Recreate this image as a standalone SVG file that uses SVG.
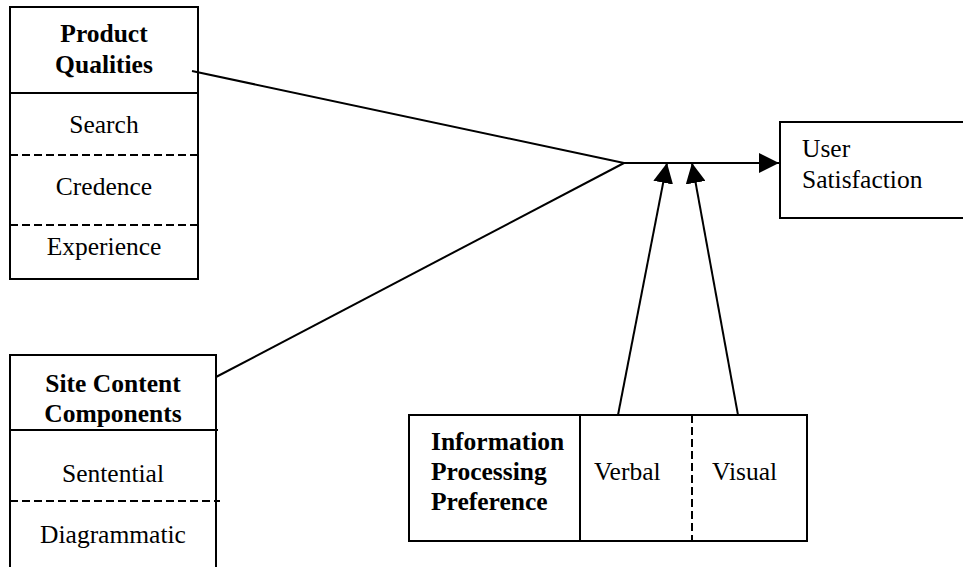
<svg xmlns="http://www.w3.org/2000/svg" width="963" height="567" viewBox="0 0 963 567">
<style>
.box{fill:#fff;stroke:#000;stroke-width:2}
.ln{stroke:#000;stroke-width:2;fill:none}
.dash{stroke:#000;stroke-width:2;stroke-dasharray:8 4;fill:none}
text{font-family:'Liberation Serif',Tinos,'DejaVu Serif',Times,serif;font-size:25.5px;fill:#000}
.b{font-weight:bold}
.c{text-anchor:middle}
</style>
<defs>
<marker id="ah" viewBox="0 0 20 20" refX="20" refY="10" markerWidth="20" markerHeight="20" markerUnits="userSpaceOnUse" orient="auto">
<path d="M0,0 L20,10 L0,20 Z" fill="#000"/>
</marker>
</defs>
<rect width="963" height="567" fill="#fff"/>
<g id="product-qualities">
<rect class="box" x="10" y="7" width="188" height="272"/>
<line class="ln" x1="10" y1="93" x2="198" y2="93"/>
<line class="dash" x1="10" y1="155" x2="198" y2="155"/>
<line class="dash" x1="10" y1="225" x2="201" y2="225"/>
<text class="b c" x="104" y="42" font-family="Liberation Serif">Product</text>
<text class="b c" x="104" y="73" font-family="Liberation Serif">Qualities</text>
<text class="c" x="104" y="133" font-family="Liberation Serif">Search</text>
<text class="c" x="104" y="195" font-family="Liberation Serif">Credence</text>
<text class="c" x="104" y="255" font-family="Liberation Serif">Experience</text>
</g>
<g id="site-content">
<path class="ln" d="M10,568 L10,355 L216,355 L216,568"/>
<line class="ln" x1="10" y1="430" x2="218" y2="430"/>
<line class="dash" x1="10" y1="501" x2="220" y2="501"/>
<text class="b c" x="113" y="392" font-family="Liberation Serif">Site Content</text>
<text class="b c" x="113" y="422" font-family="Liberation Serif">Components</text>
<text class="c" x="113" y="482" font-family="Liberation Serif">Sentential</text>
<text class="c" x="113" y="543" font-family="Liberation Serif">Diagrammatic</text>
</g>
<g id="info-processing">
<rect class="box" x="409" y="415" width="398" height="126"/>
<line class="ln" x1="580" y1="415" x2="580" y2="541"/>
<line class="dash" x1="692" y1="415" x2="692" y2="541"/>
<text class="b" x="431" y="450" font-family="Liberation Serif">Information</text>
<text class="b" x="431" y="480" font-family="Liberation Serif">Processing</text>
<text class="b" x="431" y="510" font-family="Liberation Serif">Preference</text>
<text x="594" y="480" font-family="Liberation Serif">Verbal</text>
<text x="712" y="480" font-family="Liberation Serif">Visual</text>
</g>
<g id="user-satisfaction">
<path class="ln" d="M965,122 L780,122 L780,218 L965,218"/>
<text x="802" y="157" font-family="Liberation Serif">User</text>
<text x="802" y="188" font-family="Liberation Serif">Satisfaction</text>
</g>
<g id="connectors">
<line class="ln" x1="192" y1="71" x2="624" y2="163"/>
<line class="ln" x1="216" y1="377" x2="624" y2="163"/>
<line class="ln" x1="624" y1="163" x2="779" y2="163" marker-end="url(#ah)"/>
<line class="ln" x1="618" y1="415" x2="667" y2="163" marker-end="url(#ah)"/>
<line class="ln" x1="738" y1="415" x2="692" y2="163" marker-end="url(#ah)"/>
</g>
</svg>
